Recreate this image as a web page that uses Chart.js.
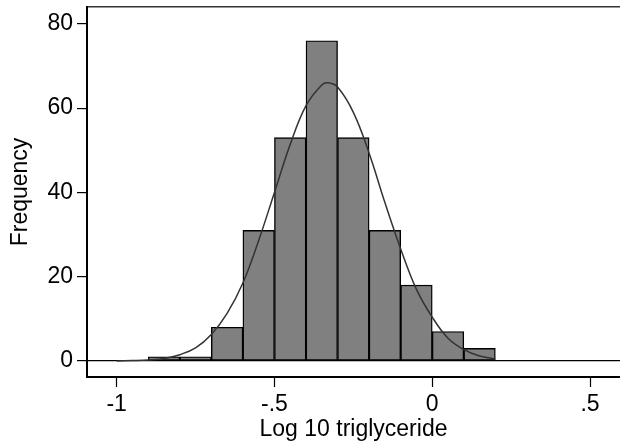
<!DOCTYPE html>
<html>
<head>
<meta charset="utf-8">
<script src="https://cdn.jsdelivr.net/npm/chart.js@4"></script>
<style>
  html, body { margin: 0; padding: 0; background: #fff; }
  #wrap { width: 620px; height: 446px; }
</style>
</head>
<body>
<div id="wrap"><canvas id="histTrig"></canvas></div>
<script>
// histogram bins (centre of each 0.1 wide bin) and counts
const binCentres = [-0.85, -0.75, -0.65, -0.55, -0.45, -0.35, -0.25, -0.15, -0.05, 0.05, 0.15];
const binCounts = [1, 1, 8, 31, 53, 76, 53, 31, 18, 7, 3];

// normal curve
const curveX = [-1.0, -0.95, -0.9, -0.85, -0.8, -0.75, -0.7, -0.65, -0.6, -0.55, -0.5, -0.45, -0.4,
  -0.35, -0.33, -0.3, -0.25, -0.2, -0.15, -0.1, -0.05, 0, 0.05, 0.1, 0.15, 0.2];
const curveY = [0.0, 0.1, 0.25, 0.6, 1.5, 3.1, 6.3, 11.3, 18.5, 28.6, 40, 51.4, 60.6,
  65.5, 66, 65, 59, 49.3, 37.6, 26.6, 17, 10.4, 5.4, 2.7, 1.2, 0.5];

const xTicks = [-1, -0.5, 0, 0.5];
const xTickLabels = ["-1", "-.5", "0", ".5"];
const yTicks = [0, 20, 40, 60, 80];
const yTickLabels = ["0", "20", "40", "60", "80"];

const font = { family: "'Liberation Sans', Arial, sans-serif", size: 23 };

const noPad = (s) => { s.paddingTop = 0; s.paddingBottom = 0; s.paddingLeft = 0; s.paddingRight = 0; };

const data = {
  datasets: [
    {
      type: "scatter",
      label: "Normal",
      data: curveX.map((x, i) => ({ x: x, y: curveY[i] })),
      showLine: true,
      pointRadius: 0,
      borderColor: "#333333",
      borderWidth: 1.5,
      tension: 0.4,
      order: 0,
    },
    {
      type: "bar",
      label: "Frequency",
      data: binCentres.map((x, i) => ({ x: x, y: binCounts[i] })),
      backgroundColor: "#808080",
      borderColor: "#000000",
      borderWidth: 1.4,
      borderSkipped: false,
      barPercentage: 1,
      categoryPercentage: 1,
      grouped: false,
      order: 1,
    },
  ],
};

const config = {
  data,
  options: {
    responsive: true,
    maintainAspectRatio: false,
    animation: false,
    layout: { padding: { top: 7, right: 0, left: 0, bottom: 0 } },
    plugins: { legend: { display: false }, tooltip: { enabled: false } },
    scales: {
      x: {
        type: "linear",
        position: "bottom",
        offset: false,
        min: -1.094,
        max: 0.595,
        afterBuildTicks: (s) => { s.ticks = xTicks.map((v) => ({ value: v })); },
        afterFit: (s) => { s.height = 69; noPad(s); },
        ticks: {
          color: "#000",
          font,
          padding: 4,
          maxRotation: 0,
          autoSkip: false,
          callback: (v) => xTickLabels[xTicks.indexOf(v)],
        },
        grid: { offset: false, drawOnChartArea: false, drawTicks: true, tickLength: 10, tickColor: "#000", tickWidth: 1.2 },
        border: { display: true, color: "#000", width: 2 },
        title: { display: true, text: "Log 10 triglyceride", color: "#000", font, padding: { top: 0, bottom: 3 } },
      },
      xTop: {
        type: "linear",
        position: "top",
        offset: false,
        min: -1.094,
        max: 0.595,
        afterFit: (s) => { s.height = 0; noPad(s); },
        ticks: { display: false },
        grid: { display: false, drawTicks: false },
        border: { display: true, color: "#333", width: 1.5 },
      },
      y: {
        type: "linear",
        min: -3.8,
        max: 84,
        afterBuildTicks: (s) => { s.ticks = yTicks.map((v) => ({ value: v })); },
        afterFit: (s) => { s.width = 87; noPad(s); },
        ticks: {
          color: "#000",
          font,
          padding: 4,
          callback: (v) => yTickLabels[yTicks.indexOf(v)],
        },
        grid: {
          drawOnChartArea: true,
          drawTicks: true,
          tickLength: 10,
          tickColor: "#000",
          tickWidth: 1.2,
          lineWidth: 1.2,
          color: (c) => (c.tick && c.tick.value === 0 ? "#000" : "rgba(0,0,0,0)"),
        },
        border: { display: true, color: "#000", width: 2 },
        title: { display: true, text: "Frequency", color: "#000", font, padding: { top: 7, bottom: 0 } },
      },
    },
  },
};

const chartTrig = new Chart(document.getElementById("histTrig"), config);
</script>
</body>
</html>
